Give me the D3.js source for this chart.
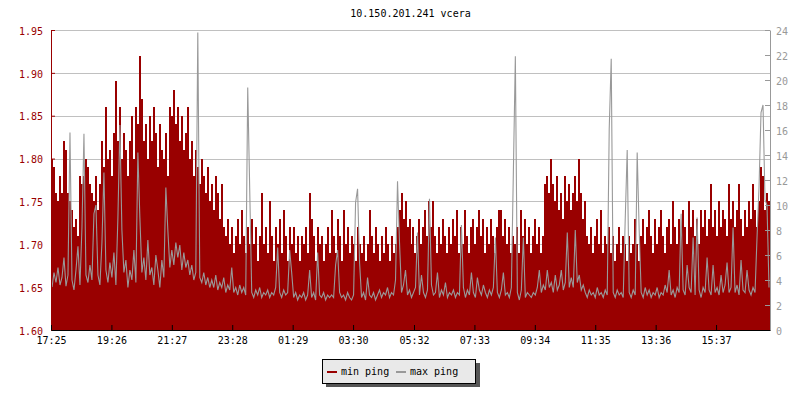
<!DOCTYPE html>
<meta charset="utf-8">
<script src="https://d3js.org/d3.v7.min.js"></script>
<style>
	body{margin:0;background:#fff;}
	svg text{font-family:'DejaVu Sans Mono',monospace;font-size:10px;}
</style>
<div id="chart"></div>
<script>
	var title = "10.150.201.241 vcera"
	var stepMin = 4 // one sample every 4 minutes, starting 17:25

	var minPing = [
		1.80,1.79,1.76,1.75,1.78,1.76,1.82,1.81,1.76,1.75,1.74,1.72,1.73,1.71,1.78,1.77,1.78,1.80,1.79,1.77,
		1.76,1.75,1.78,1.74,1.77,1.82,1.79,1.86,1.80,1.81,1.78,1.83,1.89,1.82,1.86,1.80,1.83,1.81,1.78,1.82,
		1.85,1.80,1.86,1.84,1.92,1.87,1.82,1.84,1.80,1.85,1.82,1.86,1.83,1.79,1.84,1.81,1.80,1.83,1.78,1.86,
		1.85,1.88,1.84,1.86,1.82,1.85,1.81,1.83,1.86,1.80,1.82,1.78,1.81,1.79,1.77,1.80,1.78,1.76,1.79,1.75,
		1.77,1.74,1.78,1.76,1.73,1.77,1.72,1.71,1.73,1.70,1.72,1.69,1.71,1.73,1.70,1.74,1.71,1.69,1.72,1.70,
		1.73,1.70,1.72,1.68,1.71,1.76,1.70,1.72,1.69,1.75,1.71,1.68,1.72,1.70,1.73,1.69,1.74,1.71,1.68,1.72,
		1.70,1.72,1.69,1.71,1.68,1.71,1.70,1.72,1.69,1.76,1.73,1.71,1.68,1.72,1.70,1.71,1.68,1.70,1.72,1.69,
		1.74,1.71,1.69,1.73,1.71,1.68,1.74,1.70,1.72,1.69,1.71,1.70,1.68,1.72,1.70,1.69,1.71,1.68,1.70,1.74,
		1.71,1.69,1.72,1.70,1.68,1.71,1.69,1.72,1.70,1.68,1.71,1.69,1.70,1.72,1.74,1.76,1.73,1.75,1.72,1.73,
		1.70,1.72,1.69,1.71,1.73,1.70,1.72,1.74,1.71,1.75,1.72,1.75,1.71,1.69,1.72,1.70,1.73,1.71,1.69,1.72,
		1.70,1.73,1.71,1.74,1.69,1.72,1.70,1.74,1.71,1.69,1.72,1.73,1.70,1.72,1.74,1.71,1.73,1.69,1.72,1.70,
		1.73,1.71,1.69,1.72,1.74,1.74,1.71,1.73,1.70,1.72,1.69,1.71,1.70,1.72,1.69,1.74,1.71,1.73,1.70,1.72,
		1.69,1.71,1.73,1.70,1.72,1.69,1.71,1.77,1.78,1.76,1.80,1.77,1.75,1.78,1.74,1.76,1.73,1.78,1.75,1.77,
		1.74,1.76,1.78,1.75,1.80,1.76,1.73,1.75,1.71,1.70,1.72,1.69,1.71,1.73,1.70,1.74,1.69,1.71,1.70,1.72,
		1.69,1.71,1.68,1.70,1.72,1.69,1.71,1.70,1.68,1.71,1.69,1.70,1.73,1.70,1.68,1.71,1.73,1.70,1.72,1.74,
		1.71,1.69,1.73,1.70,1.72,1.74,1.71,1.69,1.72,1.73,1.70,1.75,1.72,1.70,1.73,1.71,1.74,1.72,1.70,1.75,
		1.72,1.74,1.71,1.73,1.70,1.74,1.72,1.74,1.71,1.73,1.77,1.72,1.74,1.71,1.75,1.72,1.74,1.73,1.71,1.77,
		1.73,1.75,1.72,1.74,1.77,1.73,1.71,1.74,1.72,1.75,1.73,1.77,1.74,1.72,1.75,1.79,1.78,1.74,1.76,1.75
	]

	var maxPing = [
		3.4,4.6,3.8,5.0,3.6,4.2,5.8,3.5,4.4,15.8,4.0,3.2,4.8,6.7,3.6,8.2,15.7,4.4,3.8,5.2,
		4.0,9.3,10.0,4.4,3.6,7.0,12.6,4.8,3.8,5.4,4.2,6.2,3.6,9.0,16.4,8.0,4.6,5.6,3.4,4.8,
		4.0,6.4,3.8,14.2,9.0,4.6,5.8,4.0,7.2,4.4,5.0,3.6,6.0,4.8,3.4,5.6,4.2,11.4,8.0,5.0,
		6.4,5.2,7.0,5.8,6.8,4.8,6.2,5.0,5.6,4.4,5.2,4.0,4.6,23.8,4.2,3.8,4.6,3.6,4.2,3.4,
		4.0,3.4,4.4,3.2,3.8,3.4,4.2,3.0,3.6,3.2,5.0,3.0,3.4,2.8,3.6,3.0,3.4,2.8,19.4,11.2,
		3.0,2.6,3.2,2.8,3.4,2.6,3.0,2.8,3.2,2.6,3.0,2.8,3.4,6.6,3.0,2.6,3.2,2.8,3.0,6.4,
		4.6,2.6,3.0,2.4,2.8,2.6,3.0,2.4,2.8,4.8,2.6,3.0,2.4,6.2,2.8,2.6,3.0,2.4,2.8,2.6,
		2.8,2.6,5.2,6.4,3.0,2.6,2.8,2.4,3.0,2.6,2.4,2.8,10.2,11.3,5.4,2.6,3.0,2.4,4.2,2.8,
		2.6,3.0,2.4,2.8,3.2,2.6,3.0,2.8,3.4,2.6,3.0,2.8,4.0,11.9,7.0,3.0,3.6,4.8,2.8,3.2,
		2.6,3.0,3.4,7.8,2.8,4.4,3.0,2.6,3.2,10.5,3.6,2.8,3.0,4.6,2.6,3.2,2.8,3.8,2.6,3.0,
		2.8,3.2,2.6,3.0,2.8,8.4,3.4,2.6,3.2,2.8,4.6,3.0,2.6,4.2,3.2,2.8,3.6,3.0,2.6,3.2,
		2.8,3.4,7.4,3.0,2.6,3.2,4.6,2.8,3.0,2.6,3.4,12.6,21.9,3.0,2.4,3.2,7.4,2.6,3.0,2.8,
		2.6,3.0,2.8,3.4,4.8,3.0,3.6,3.2,4.8,3.4,3.8,3.0,4.4,3.2,3.6,4.8,3.2,3.8,7.8,3.4,
		4.2,3.4,8.0,3.8,4.4,3.2,3.6,3.0,2.6,3.2,2.8,3.0,2.6,3.4,2.8,3.0,2.6,3.2,2.8,16.1,
		21.7,3.0,2.6,3.2,2.8,3.0,2.6,8.8,14.4,3.0,2.6,3.2,2.8,14.2,8.0,3.0,2.6,3.4,2.8,3.2,
		2.6,3.0,2.8,3.4,2.6,3.0,2.8,3.6,3.0,4.8,2.8,3.2,2.6,3.4,3.0,9.3,3.2,2.8,5.2,3.4,
		3.0,7.4,2.8,9.0,3.2,2.6,3.4,3.0,5.8,3.2,2.8,5.2,3.0,3.4,2.8,4.4,3.0,3.6,5.4,3.0,
		3.4,8.2,3.0,3.6,2.8,5.6,3.2,3.0,4.8,3.2,2.8,3.4,3.0,7.4,11.4,17.4,18.0,10.4,10.0,3.4
	]

	var timeLabels = ["17:25","19:26","21:27","23:28","01:29","03:30","05:32","07:33","09:34","11:35","13:36","15:37"]
	var timeTicks = [0,121,242,363,484,605,727,848,969,1090,1211,1332] // minutes after 17:25
	var leftTicks = [1.60,1.65,1.70,1.75,1.80,1.85,1.90,1.95]
	var rightTicks = [0,2,4,6,8,10,12,14,16,18,20,22,24]
	var seriesNames = ["min ping","max ping"]
	var seriesColors = ["#990000","#999999"]

	var w = 800, h = 400
	var pLeft = 51, pRight = 770, pTop = 30, pBottom = 330

	var svg = d3.select("#chart").append("svg").attr("width",w).attr("height",h)

	var x = d3.scaleLinear().domain([0,1440]).range([pLeft,pRight])
	var yL = d3.scaleLinear().domain([1.60,1.95]).range([pBottom,pTop])
	var yR = d3.scaleLinear().domain([0,24]).range([pBottom,pTop])

	svg.append("text").text(title).attr("x",(pLeft+pRight)/2).attr("y",17).attr("text-anchor","middle").attr("fill","#000")

	// grid
	svg.append("g").selectAll("line")
		.data(leftTicks.slice(1))
		.join("line")
		.attr("x1",pLeft).attr("x2",pRight)
		.attr("y1",function(d){return Math.round(yL(d))+0.5})
		.attr("y2",function(d){return Math.round(yL(d))+0.5})
		.attr("stroke","#c0c0c0")
		.attr("shape-rendering","crispEdges")

	var minPts = minPing.map(function(v,i){return [i*stepMin,v]})
	minPts.push([1440,minPing[minPing.length-1]])
	var maxPts = maxPing.map(function(v,i){return [i*stepMin+stepMin/2,v]})

	var area = d3.area()
		.x(function(d){return x(d[0])})
		.y0(pBottom)
		.y1(function(d){return yL(d[1])})
		.curve(d3.curveStepAfter)
	svg.append("path").datum(minPts).attr("d",area).attr("fill",seriesColors[0]).attr("shape-rendering","crispEdges")

	var line = d3.line()
		.x(function(d){return x(d[0])})
		.y(function(d){return yR(d[1])})
	svg.append("path").datum(maxPts).attr("d",line).attr("fill","none").attr("stroke",seriesColors[1]).attr("stroke-width",1.1)

	// left axis
	var gL = svg.append("g").attr("transform","translate("+pLeft+",0)")
	gL.call(d3.axisLeft(yL).tickValues(d3.range(160,196).map(function(d){return d/100})).tickSizeInner(-3).tickSizeOuter(0).tickFormat(""))
	gL.call(d3.axisLeft(yL).tickValues(leftTicks).tickSizeInner(-4).tickSizeOuter(0).tickPadding(8).tickFormat(d3.format(".2f")))
	gL.selectAll("path,line").attr("stroke",seriesColors[0])
	gL.selectAll("text").attr("fill",seriesColors[0]).attr("dy","0.42em").style("font-family","'DejaVu Sans Mono',monospace").style("font-size","10px")

	// right axis
	var gR = svg.append("g").attr("transform","translate("+pRight+",0)")
	gR.call(d3.axisRight(yR).tickValues(d3.range(0,25)).tickSizeInner(-4).tickSizeOuter(0).tickFormat(""))
	gR.call(d3.axisRight(yR).tickValues(rightTicks).tickSizeInner(-5).tickSizeOuter(0).tickPadding(6))
	gR.selectAll("path,line").attr("stroke","#999")
	gR.selectAll("text").attr("fill","#999").attr("dy","0.42em").style("font-family","'DejaVu Sans Mono',monospace").style("font-size","10px")

	// time axis
	var gB = svg.append("g").attr("transform","translate(0,"+pBottom+")")
	gB.call(d3.axisBottom(x).tickValues(timeTicks).tickFormat(function(d,i){return timeLabels[i]}).tickSizeInner(-5).tickSizeOuter(0).tickPadding(7))
	gB.selectAll("path,line").attr("stroke","#000")
	gB.selectAll("text").attr("fill","#000").style("font-family","'DejaVu Sans Mono',monospace").style("font-size","10px")

	// legend
	var lg = svg.append("g").attr("opacity",0.999)
	lg.append("rect").attr("x",326).attr("y",363).attr("width",154).attr("height",24).attr("fill","#555")
	lg.append("rect").attr("x",322.5).attr("y",359.5).attr("width",153).attr("height",24).attr("fill","#e9e9e9").attr("stroke","#000")
	seriesNames.forEach(function(name,i){
		var lx = 327 + i*69
		lg.append("line").attr("x1",lx).attr("x2",lx+10).attr("y1",372).attr("y2",372)
			.attr("stroke",seriesColors[i]).attr("stroke-width",2)
		lg.append("text").text(name).attr("x",lx+14).attr("y",375).attr("fill","#000")
	})
</script>
